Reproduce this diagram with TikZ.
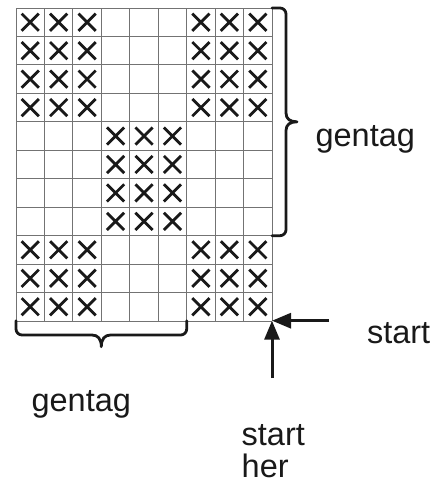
\documentclass[tikz,border=0pt]{standalone}
\usepackage{fontspec}
\setmainfont{Liberation Sans}
\usetikzlibrary{arrows.meta}
\begin{document}
\begin{tikzpicture}[x=1pt,y=1pt,
  gridline/.style={draw=black!55,line width=0.9pt},
  xmark/.style={draw=black!90,line width=2.8pt},
  bracket/.style={draw=black!90,line width=2.8pt,line cap=round,line join=round},
  startarrow/.style={draw=black!90,line width=3pt,-{Triangle[length=19pt,width=15pt]}},
  label/.style={inner sep=0pt,anchor=base west,font=\fontsize{32.5}{32}\selectfont,text=black!90}]
\useasboundingbox (0,0) rectangle (437,-485);
\def\cs{28.45}
% grid
\coordinate (tl) at (16,-8);
\coordinate (corner) at (272,-320.7);
\foreach \i in {0,...,9}{
  \draw[gridline] (16+\i*\cs,-8) -- (16+\i*\cs,-320.7);
}
\foreach \j in {0,...,11}{
  \draw[gridline] (16,-8-\j*\cs) -- (272,-8-\j*\cs);
}
% crosses
\foreach \r/\c in {1/1,1/2,1/3,1/7,1/8,1/9,2/1,2/2,2/3,2/7,2/8,2/9,3/1,3/2,3/3,3/7,3/8,3/9,4/1,4/2,4/3,4/7,4/8,4/9,
  5/4,5/5,5/6,6/4,6/5,6/6,7/4,7/5,7/6,8/4,8/5,8/6,
  9/1,9/2,9/3,9/7,9/8,9/9,10/1,10/2,10/3,10/7,10/8,10/9,11/1,11/2,11/3,11/7,11/8,11/9}{
  \pgfmathsetmacro\cx{16+(\c-0.5)*\cs}
  \pgfmathsetmacro\cy{-8-(\r-0.5)*\cs}
  \draw[xmark] (\cx-8.6,\cy-8.6) -- (\cx+8.6,\cy+8.6) (\cx-8.6,\cy+8.6) -- (\cx+8.6,\cy-8.6);
}
% right brace
\draw[bracket] (272,-8) -- (280,-8) arc[start angle=90,end angle=0,radius=6] -- (286,-113)
  .. controls (286,-119) and (290,-121.8) .. (297,-121.8)
  .. controls (290,-121.8) and (286,-124.6) .. (286,-130.6) -- (286,-229.7)
  arc[start angle=0,end angle=-90,radius=6] -- (272,-235.7);
% bottom brace
\draw[bracket] (16,-320.7) -- (16,-329) arc[start angle=180,end angle=270,radius=6] -- (92,-335)
  .. controls (98,-335) and (101.3,-339) .. (101.3,-346.7)
  .. controls (101.3,-339) and (104.6,-335) .. (110.6,-335) -- (180.7,-335)
  arc[start angle=270,end angle=360,radius=6] -- (186.7,-320.7);
% labels
\node[label] (gr) at (315.4,-146.7) {gentag};
\node[label] (gb) at (31.4,-411) {gentag};
\node[label] (sr) at (366.8,-343) {start};
\node[label] (sb) at (241.5,-445) {start};
\node[label] (hb) at (241.5,-477) {her};
% arrows
\coordinate (ha) at (329,-320.7);
\coordinate (va) at (272,-378);
\draw[startarrow] (ha) -- (corner);
\draw[startarrow] (va) -- (corner);
\end{tikzpicture}
\end{document}
